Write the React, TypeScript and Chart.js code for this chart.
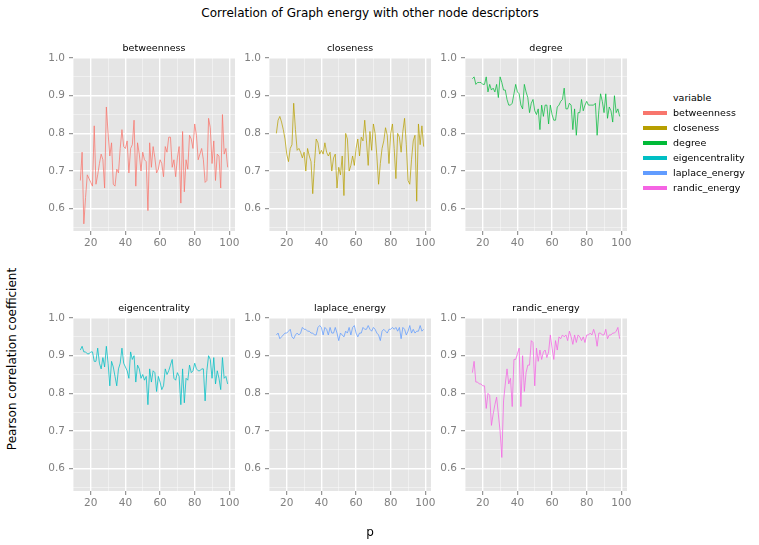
import React, { useEffect, useRef } from "react";
import { Chart, registerables } from "chart.js";

Chart.register(...registerables);

// ---------- data ----------
const pValues = [
  14, 15, 16, 17, 18, 19, 20, 21, 22, 23, 24, 25, 26, 27, 28, 29, 30, 31, 32, 33,
  34, 35, 36, 37, 38, 39, 40, 41, 42, 43, 44, 45, 46, 47, 48, 49, 50, 51, 52, 53,
  54, 55, 56, 57, 58, 59, 60, 61, 62, 63, 64, 65, 66, 67, 68, 69, 70, 71, 72, 73,
  74, 75, 76, 77, 78, 79, 80, 81, 82, 83, 84, 85, 86, 87, 88, 89, 90, 91, 92, 93,
  94, 95, 96, 97, 98, 99,
];

const betweenness = [
  0.675, 0.75, 0.56, 0.63, 0.69, 0.68, 0.67, 0.66, 0.82, 0.665, 0.69, 0.72, 0.745, 0.73, 0.655, 0.87, 0.8, 0.74, 0.775, 0.665,
  0.66, 0.705, 0.695, 0.76, 0.81, 0.765, 0.76, 0.78, 0.695, 0.76, 0.77, 0.835, 0.66, 0.775, 0.745, 0.7, 0.75, 0.73, 0.725, 0.595,
  0.775, 0.71, 0.765, 0.735, 0.695, 0.705, 0.73, 0.72, 0.685, 0.765, 0.75, 0.79, 0.79, 0.71, 0.73, 0.685, 0.735, 0.765, 0.615, 0.805,
  0.645, 0.73, 0.705, 0.795, 0.785, 0.76, 0.825, 0.795, 0.73, 0.745, 0.76, 0.73, 0.67, 0.675, 0.84, 0.815, 0.72, 0.78, 0.675, 0.745,
  0.74, 0.655, 0.85, 0.745, 0.76, 0.71,
];

const closeness = [
  0.8, 0.835, 0.845, 0.83, 0.81, 0.785, 0.745, 0.725, 0.76, 0.77, 0.88, 0.81, 0.755, 0.76, 0.75, 0.735, 0.75, 0.7, 0.76, 0.74,
  0.725, 0.64, 0.72, 0.785, 0.775, 0.745, 0.755, 0.745, 0.775, 0.75, 0.74, 0.75, 0.7, 0.735, 0.745, 0.655, 0.71, 0.69, 0.74, 0.635,
  0.8, 0.785, 0.7, 0.715, 0.74, 0.715, 0.76, 0.785, 0.74, 0.79, 0.78, 0.835, 0.78, 0.715, 0.805, 0.755, 0.825, 0.8, 0.74, 0.665,
  0.72, 0.76, 0.78, 0.815, 0.795, 0.72, 0.8, 0.825, 0.76, 0.68, 0.8, 0.79, 0.75, 0.805, 0.84, 0.77, 0.675, 0.665, 0.73, 0.78,
  0.795, 0.62, 0.825, 0.77, 0.82, 0.765,
];

const degree = [
  0.945, 0.95, 0.93, 0.935, 0.935, 0.935, 0.93, 0.93, 0.95, 0.91, 0.93, 0.915, 0.92, 0.91, 0.93, 0.895, 0.95, 0.935, 0.915, 0.915,
  0.89, 0.875, 0.875, 0.88, 0.905, 0.93, 0.91, 0.905, 0.875, 0.865, 0.93, 0.91, 0.895, 0.855, 0.88, 0.89, 0.86, 0.85, 0.865, 0.81,
  0.875, 0.845, 0.875, 0.875, 0.825, 0.875, 0.85, 0.835, 0.835, 0.87, 0.875, 0.885, 0.89, 0.92, 0.865, 0.865, 0.88, 0.875, 0.81, 0.865,
  0.795, 0.855, 0.855, 0.89, 0.86, 0.875, 0.885, 0.875, 0.875, 0.875, 0.875, 0.88, 0.795, 0.86, 0.905, 0.885, 0.855, 0.905, 0.84, 0.87,
  0.86, 0.83, 0.9, 0.855, 0.865, 0.845,
];

const eigencentrality = [
  0.915, 0.925, 0.91, 0.91, 0.905, 0.905, 0.91, 0.91, 0.885, 0.885, 0.92, 0.88, 0.865, 0.895, 0.87, 0.925, 0.88, 0.82, 0.885, 0.87,
  0.845, 0.82, 0.865, 0.88, 0.92, 0.88, 0.87, 0.86, 0.84, 0.91, 0.89, 0.9, 0.83, 0.875, 0.865, 0.84, 0.85, 0.835, 0.845, 0.77,
  0.865, 0.83, 0.86, 0.855, 0.805, 0.845, 0.83, 0.81, 0.82, 0.865, 0.85, 0.86, 0.875, 0.89, 0.84, 0.835, 0.855, 0.845, 0.77, 0.865,
  0.775, 0.84, 0.835, 0.875, 0.855, 0.86, 0.88, 0.865, 0.86, 0.86, 0.865, 0.865, 0.78, 0.86, 0.9, 0.89, 0.84, 0.895, 0.825, 0.86,
  0.84, 0.81, 0.895, 0.84, 0.845, 0.825,
];

const laplaceEnergy = [
  0.955, 0.96, 0.945, 0.95, 0.955, 0.96, 0.96, 0.965, 0.97, 0.95, 0.945, 0.955, 0.96, 0.955, 0.96, 0.975, 0.97, 0.97, 0.965, 0.965,
  0.96, 0.96, 0.955, 0.955, 0.975, 0.98, 0.975, 0.955, 0.975, 0.97, 0.955, 0.975, 0.96, 0.96, 0.975, 0.96, 0.94, 0.96, 0.955, 0.95,
  0.965, 0.96, 0.975, 0.955, 0.975, 0.98, 0.96, 0.95, 0.96, 0.96, 0.975, 0.97, 0.97, 0.98, 0.97, 0.965, 0.975, 0.97, 0.96, 0.955,
  0.94, 0.965, 0.97, 0.965, 0.96, 0.97, 0.97, 0.975, 0.97, 0.975, 0.965, 0.975, 0.945, 0.975, 0.97, 0.955, 0.965, 0.98, 0.96, 0.97,
  0.96, 0.965, 0.965, 0.98, 0.965, 0.97,
];

const randicEnergy = [
  0.855, 0.885, 0.83, 0.83, 0.825, 0.825, 0.82, 0.82, 0.76, 0.8, 0.795, 0.715, 0.745, 0.77, 0.79, 0.745, 0.7, 0.63, 0.78, 0.825,
  0.865, 0.825, 0.84, 0.765, 0.89, 0.89, 0.905, 0.92, 0.765, 0.9, 0.805, 0.855, 0.875, 0.875, 0.94, 0.935, 0.82, 0.92, 0.885, 0.915,
  0.89, 0.91, 0.915, 0.895, 0.91, 0.955, 0.92, 0.89, 0.94, 0.915, 0.95, 0.945, 0.955, 0.95, 0.955, 0.94, 0.965, 0.95, 0.93, 0.955,
  0.935, 0.955, 0.95, 0.94, 0.95, 0.935, 0.955, 0.955, 0.96, 0.955, 0.97, 0.955, 0.925, 0.96, 0.96, 0.955, 0.955, 0.97, 0.945, 0.955,
  0.955, 0.96, 0.96, 0.965, 0.975, 0.945,
];

const seriesNames = ["betweenness", "closeness", "degree", "eigencentrality", "laplace_energy", "randic_energy"];
const seriesValues = [betweenness, closeness, degree, eigencentrality, laplaceEnergy, randicEnergy];
const seriesColors = ["#F8766D", "#B79F00", "#00BA38", "#00BFC4", "#619CFF", "#F564E3"];
const lineColors = [
  "rgba(248,118,109,0.85)",
  "rgba(183,159,0,0.8)",
  "rgba(0,186,56,0.8)",
  "rgba(0,191,196,0.85)",
  "rgba(97,156,255,0.85)",
  "rgba(245,100,227,0.85)",
];

const xMajorTicks = [20, 40, 60, 80, 100];
const xMinorTicks = [10, 30, 50, 70, 90];
const yMajorTicks = [0.6, 0.7, 0.8, 0.9, 1.0];
const yMinorTicks = [0.55, 0.65, 0.75, 0.85, 0.95];

const TITLE = "Correlation of Graph energy with other node descriptors";
const X_LABEL = "p";
const Y_LABEL = "Pearson correlation coefficient";
const LEGEND_TITLE = "variable";

// ---------- layout ----------
const FONT = "'DejaVu Sans', sans-serif";
const X_MIN = 9.75;
const X_MAX = 103.25;
const Y_MIN = 0.541;
const Y_MAX = 1.0;
const COL_LEFT = [73, 269, 465];
const ROW_TOP = [58, 318];
const PANEL_W = 162;
const PANEL_H = 173;
const AX_W = 40;
const AX_H = 24;
const PAD_T = 8;
const PAD_R = 14;

const isIn = (list: number[], v: number) => list.some((m) => Math.abs(m - v) < 1e-6);

const bgPlugin = {
  id: "panelBg",
  beforeDraw(chart: any) {
    const { ctx, chartArea } = chart;
    ctx.save();
    ctx.fillStyle = "#E5E5E5";
    ctx.fillRect(chartArea.left, chartArea.top, chartArea.right - chartArea.left, chartArea.bottom - chartArea.top);
    ctx.restore();
  },
};

function Panel({ idx }: { idx: number }) {
  const ref = useRef<HTMLCanvasElement | null>(null);
  const col = idx % 3;
  const row = Math.floor(idx / 3);
  const left = COL_LEFT[col] - AX_W;
  const top = ROW_TOP[row] - PAD_T;
  const w = AX_W + PANEL_W + PAD_R;
  const h = PAD_T + PANEL_H + AX_H;

  useEffect(() => {
    if (!ref.current) return;
    const values = seriesValues[idx];
    const gridFor = (major: number[]) => ({
      drawTicks: true,
      tickLength: 4,
      tickWidth: 1,
      color: (c: any) => (c.tick && isIn(major, c.tick.value) ? "#FFFFFF" : "rgba(255,255,255,0.6)"),
      lineWidth: (c: any) => (c.tick && isIn(major, c.tick.value) ? 1.4 : 0.7),
      tickColor: (c: any) => (c.tick && isIn(major, c.tick.value) ? "#7F7F7F" : "rgba(0,0,0,0)"),
    });
    const chart = new Chart(ref.current, {
      type: "line",
      data: {
        datasets: [
          {
            label: seriesNames[idx],
            data: pValues.map((p, i) => ({ x: p, y: values[i] })),
            borderColor: lineColors[idx],
            borderWidth: 0.9,
            pointRadius: 0,
            tension: 0,
            fill: false,
          },
        ],
      },
      options: {
        animation: false,
        responsive: true,
        maintainAspectRatio: false,
        layout: { padding: { top: PAD_T, right: PAD_R, left: 0, bottom: 0 } },
        plugins: { legend: { display: false }, tooltip: { enabled: false }, title: { display: false } },
        scales: {
          x: {
            type: "linear",
            min: X_MIN,
            max: X_MAX,
            afterBuildTicks: (s: any) => {
              s.ticks = [...xMinorTicks, ...xMajorTicks].sort((a, b) => a - b).map((v) => ({ value: v }));
            },
            afterFit: (s: any) => {
              s.height = AX_H;
              s.paddingLeft = 0;
              s.paddingRight = 0;
            },
            border: { display: false },
            grid: gridFor(xMajorTicks) as any,
            ticks: {
              autoSkip: false,
              maxRotation: 0,
              minRotation: 0,
              padding: 2,
              color: "#7F7F7F",
              font: { family: FONT, size: 10.5 },
              callback: (v: any) => (isIn(xMajorTicks, Number(v)) ? String(v) : ""),
            },
          },
          y: {
            type: "linear",
            min: Y_MIN,
            max: Y_MAX,
            afterBuildTicks: (s: any) => {
              s.ticks = [...yMinorTicks, ...yMajorTicks].sort((a, b) => a - b).map((v) => ({ value: v }));
            },
            afterFit: (s: any) => {
              s.width = AX_W;
              s.paddingTop = 0;
              s.paddingBottom = 0;
            },
            border: { display: false },
            grid: gridFor(yMajorTicks) as any,
            ticks: {
              autoSkip: false,
              padding: 4,
              color: "#7F7F7F",
              font: { family: FONT, size: 10.5 },
              callback: (v: any) => (isIn(yMajorTicks, Number(v)) ? Number(v).toFixed(1) : ""),
            },
          },
        },
      },
      plugins: [bgPlugin],
    });
    return () => chart.destroy();
  }, [idx]);

  return (
    <>
      <div style={{ position: "absolute", left, top, width: w, height: h }}>
        <canvas ref={ref} />
      </div>
      <div
        style={{
          position: "absolute",
          left: COL_LEFT[col] + PANEL_W / 2,
          top: ROW_TOP[row] - 10,
          transform: "translate(-50%, -50%)",
          font: `9.5px ${FONT}`,
          lineHeight: "1",
          color: "#000",
          whiteSpace: "nowrap",
        }}
      >
        {seriesNames[idx]}
      </div>
    </>
  );
}

export default function App() {
  return (
    <div
      style={{
        position: "fixed",
        left: 0,
        top: 0,
        width: 759,
        height: 545,
        background: "#FFFFFF",
        fontFamily: FONT,
        overflow: "hidden",
      }}
    >
      <div
        style={{
          position: "absolute",
          left: 370,
          top: 13,
          transform: "translate(-50%, -50%)",
          font: `12px ${FONT}`,
          lineHeight: "1",
          whiteSpace: "nowrap",
          color: "#000",
        }}
      >
        {TITLE}
      </div>
      {seriesNames.map((_, i) => (
        <Panel key={i} idx={i} />
      ))}
      <div
        style={{
          position: "absolute",
          left: 370,
          top: 532,
          transform: "translate(-50%, -50%)",
          font: `12px ${FONT}`,
          lineHeight: "1",
          color: "#000",
        }}
      >
        {X_LABEL}
      </div>
      <div
        style={{
          position: "absolute",
          left: 12,
          top: 359,
          transform: "translate(-50%, -50%) rotate(-90deg)",
          font: `12px ${FONT}`,
          lineHeight: "1",
          whiteSpace: "nowrap",
          color: "#000",
        }}
      >
        {Y_LABEL}
      </div>
      <div
        style={{
          position: "absolute",
          left: 673,
          top: 98,
          transform: "translateY(-50%)",
          font: `9.5px ${FONT}`,
          lineHeight: "1",
          color: "#000",
        }}
      >
        {LEGEND_TITLE}
      </div>
      {seriesNames.map((n, i) => (
        <React.Fragment key={n}>
          <div
            style={{
              position: "absolute",
              left: 643,
              top: 113 + i * 15 - 2.25,
              width: 24,
              height: 4.5,
              background: seriesColors[i],
            }}
          />
          <div
            style={{
              position: "absolute",
              left: 673,
              top: 113 + i * 15,
              transform: "translateY(-50%)",
              font: `9.5px ${FONT}`,
              lineHeight: "1",
              color: "#000",
              whiteSpace: "nowrap",
            }}
          >
            {n}
          </div>
        </React.Fragment>
      ))}
    </div>
  );
}
